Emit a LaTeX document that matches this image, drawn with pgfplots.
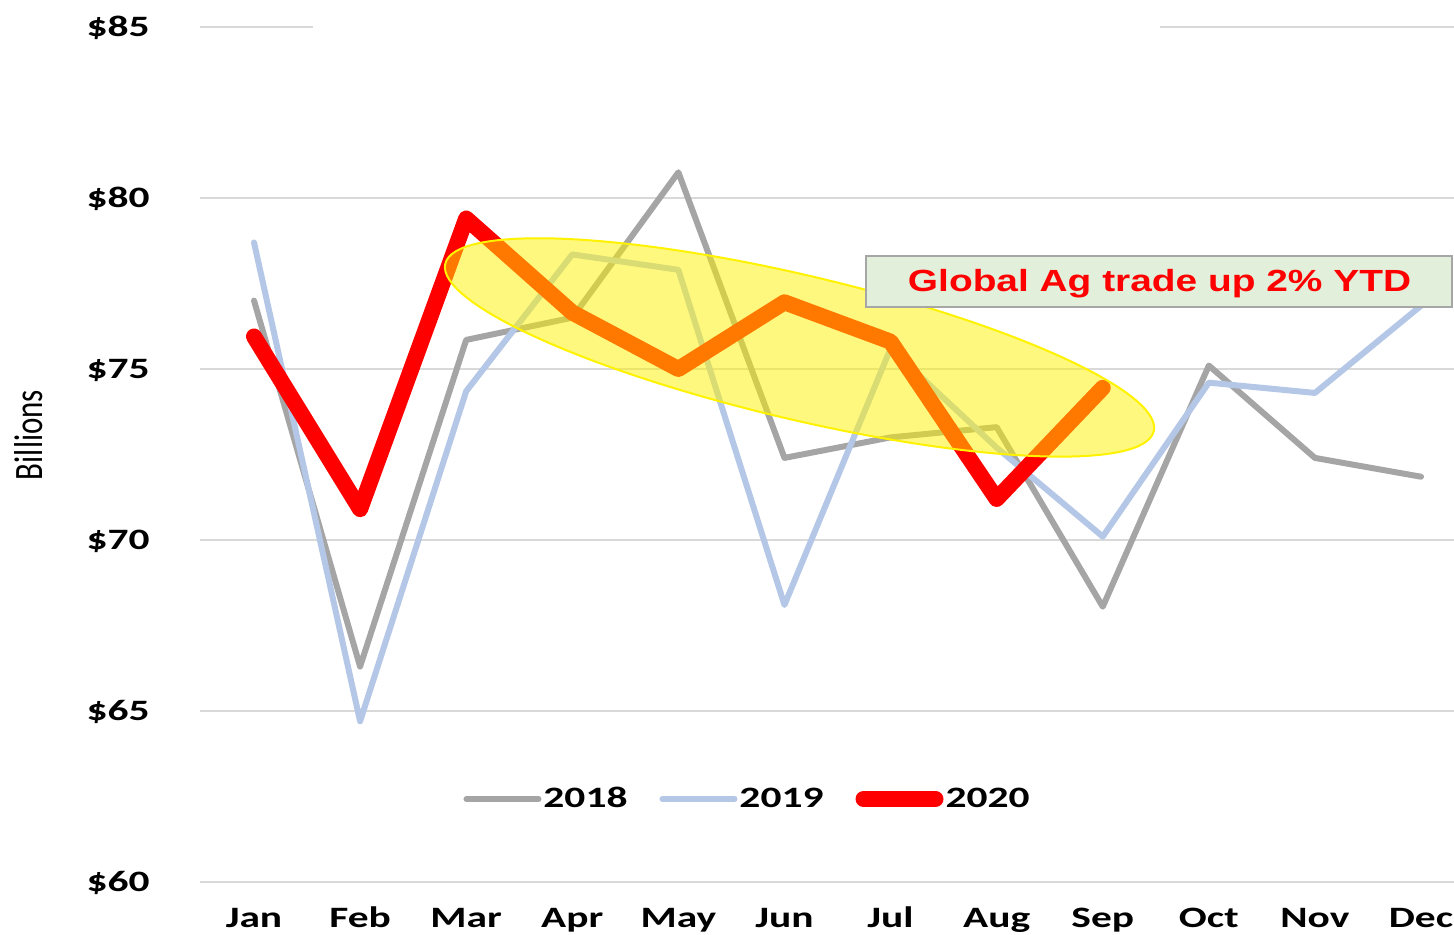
\documentclass[border=0pt]{standalone}
\usepackage{pgfplots}
\pgfplotsset{compat=1.18}
\usepackage{fontspec}
\setmainfont{Carlito}
\newfontfamily\tickfont[FakeStretch=1.4]{Carlito}
\newfontfamily\notefont[FakeStretch=1.27]{Liberation Sans}
\usetikzlibrary{shapes.geometric}
\definecolor{cA}{HTML}{A5A5A5}
\definecolor{cB}{HTML}{B4C7E7}
\definecolor{cR}{HTML}{FF0000}
\definecolor{gridc}{HTML}{D9D9D9}
\definecolor{boxg}{HTML}{E2EFDA}
\definecolor{boxb}{HTML}{A6A6A6}
\begin{document}
\begin{tikzpicture}
\useasboundingbox (0pt,0pt) rectangle (727pt,467.5pt);
\begin{axis}[
  at={(100pt,26.5pt)}, anchor=south west,
  scale only axis, width=627pt, height=427.5pt,
  xmin=-0.509, xmax=11.311, ymin=60, ymax=85,
  clip=false,
  axis line style={draw=none},
  major tick length=0pt,
  ymajorgrids, grid style={color=gridc, line width=1pt},
  xtick={0,1,2,3,4,5,6,7,8,9,10,11},
  xticklabels={Jan,Feb,Mar,Apr,May,Jun,Jul,Aug,Sep,Oct,Nov,Dec},
  ytick={60,65,70,75,80,85},
  yticklabels={\$60,\$65,\$70,\$75,\$80,\$85},
  ticklabel style={font=\tickfont\bfseries\fontsize{14.8}{17}\selectfont, inner sep=0pt},
  xticklabel style={anchor=base, yshift=-23pt},
  yticklabel style={anchor=base east, xshift=-25pt, yshift=-5pt},
  legend columns=3,
  legend image code/.code={\draw[#1, line cap=round] (0pt,0pt) -- (36pt,0pt);},
  legend style={at={(0.4366,0.0971)}, anchor=center, draw=none, fill=none,
    font=\tickfont\bfseries\fontsize{14.8}{17}\selectfont,
    nodes={inner sep=1pt},
    /tikz/every even column/.append style={column sep=15pt}},
]
\addplot[color=cA, line width=3pt, line join=round, line cap=round] coordinates {
(0,77.0) (1,66.3) (2,75.85) (3,76.5) (4,80.75) (5,72.4) (6,73.0) (7,73.3) (8,68.05) (9,75.1) (10,72.4) (11,71.85)};
\addlegendentry{2018}
\addplot[color=cB, line width=3pt, line join=round, line cap=round] coordinates {
(0,78.7) (1,64.7) (2,74.35) (3,78.35) (4,77.9) (5,68.1) (6,75.6) (7,72.7) (8,70.1) (9,74.6) (10,74.3) (11,76.85)};
\addlegendentry{2019}
\addplot[color=cR, line width=8pt, line join=round, line cap=round] coordinates {
(0,75.95) (1,70.9) (2,79.4) (3,76.65) (4,75.0) (5,76.95) (6,75.8) (7,71.2) (8,74.45)};
\addlegendentry{2020}
\node[ellipse, draw=yellow, line width=1pt, fill=yellow, fill opacity=0.5,
  minimum width=364pt, minimum height=72pt, inner sep=0pt, rotate=-13.3]
  at (axis cs:5.142,75.63) {};
\end{axis}
\fill[white] (156.5pt,451pt) rectangle (580pt,457pt);
\draw[draw=boxb, fill=boxg, line width=1pt] (433pt,314pt) rectangle (726pt,339.5pt);
\node[anchor=base, inner sep=0pt, text=cR] at (579.75pt,321.5pt)
  {\notefont\bfseries\fontsize{15.3}{18}\selectfont Global Ag trade up 2\% YTD};
\node[rotate=90, inner sep=0pt] at (14.5pt,250pt)
  {\scalebox{1}[1.3]{\fontsize{15.5}{18}\selectfont Billions}};
\end{tikzpicture}
\end{document}
